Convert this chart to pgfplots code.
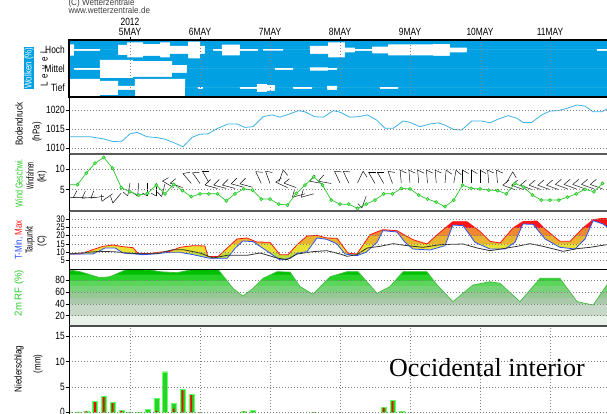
\documentclass[border=0pt]{standalone}
\usepackage{fontspec}
\setmainfont{Liberation Sans}
\newfontfamily\lab[FakeStretch=0.8]{Liberation Sans}
\newfontfamily\cfont[FakeStretch=0.9]{Liberation Sans}
\newfontfamily\serif{Liberation Serif}
\usepackage{graphicx}
\usepackage{pgfplots}
\usepackage{pgfplotstable}
\pgfplotsset{compat=1.18}

\definecolor{wzblue}{RGB}{0,160,226}
\definecolor{pline}{RGB}{60,178,232}
\definecolor{wgreen}{RGB}{40,200,40}
\definecolor{tmaxc}{RGB}{255,20,20}
\definecolor{tminc}{RGB}{40,80,255}
\definecolor{tdc}{RGB}{50,50,50}
\definecolor{tb1}{RGB}{190,220,60}
\definecolor{tb2}{RGB}{232,224,50}
\definecolor{tb3}{RGB}{232,180,50}
\definecolor{tb4}{RGB}{240,136,48}
\definecolor{tb5}{RGB}{255,20,20}
\definecolor{rb1}{RGB}{232,242,232}
\definecolor{rb2}{RGB}{200,216,200}
\definecolor{rb3}{RGB}{170,200,170}
\definecolor{rb4}{RGB}{150,200,150}
\definecolor{rb5}{RGB}{120,210,120}
\definecolor{rb6}{RGB}{90,215,90}
\definecolor{rb7}{RGB}{40,210,40}
\definecolor{rb8}{RGB}{0,190,0}
\definecolor{rhline}{RGB}{60,190,60}
\definecolor{pgreen}{RGB}{40,210,40}

% humidity bands 20/40/50/60/70/80/90 % on an axis from 2.7 to 98.5
% (the middle 25bp..75bp of a shading spans the axis box)
\pgfdeclareverticalshading{rhbands}{100bp}{
  color(0bp)=(rb1); color(34.03bp)=(rb1);
  color(34.03bp)=(rb2); color(44.47bp)=(rb2);
  color(44.47bp)=(rb3); color(49.69bp)=(rb3);
  color(49.69bp)=(rb4); color(54.91bp)=(rb4);
  color(54.91bp)=(rb5); color(60.13bp)=(rb5);
  color(60.13bp)=(rb6); color(65.34bp)=(rb6);
  color(65.34bp)=(rb7); color(70.56bp)=(rb7);
  color(70.56bp)=(rb8); color(100bp)=(rb8)}

\newcommand\lf{\lab\fontsize{10}{11}\selectfont}

% time axis: hours from 5 May 2012 00 UTC
% cloud cover per level (%), each value holds from t to the next t
\pgfplotstableread{
t c
-21 60
-19.2 10
-10.3 0
-4.1 53
-1.0 79
4.5 63
10.3 79
13.7 42
19.9 88
24 42
25.7 0
28.5 10
31.5 56
37.7 10
43.9 0
45.6 8
52.5 0
61.7 42
67.9 79
73.7 26
77.1 10
83 35
88.5 58
103.9 63
109.7 26
115.5 0
160.1 10
166 10
}\cloudH
\pgfplotstableread{
t c
-21 0
-19.2 10
-10.3 95
1.0 84
14.4 42
19.5 0
49.7 10
55.9 0
61.7 18
67.9 10
71 0
166 0
}\cloudM
\pgfplotstableread{
t c
-21 95
-10.3 74
-4.1 21
1.7 95
18.9 0
23.3 10
25 0
37.7 10
43.5 42
46.9 30
49.7 0
55.9 10
62.4 0
67.6 21
71 0
85.7 10
91.9 0
166 0
}\cloudT

\pgfplotstableread{
t v
-20.9 9
-17.1 9
-13.7 11
-9.3 13.6
-5.8 14.4
-2.4 13.4
1.0 12.8
2.7 9.5
6.9 9.2
9.3 10
13.7 10.6
17.1 13
21.6 14
25.7 13.8
26.7 7.5
30.2 7.5
36.7 18
40.1 18.6
43.5 16.2
48.0 16
51.4 8.6
54.2 8.6
57.3 14.6
60.7 19.8
64.1 20.2
67.5 18.6
71.0 18.4
74.7 9.5
77.8 9
82.3 20.6
86.7 23.6
91.5 23
97.0 17.6
101.8 15
106.3 22
110.7 28.4
115.5 28.4
120.0 22.6
123.4 16.6
126.9 15.6
131.3 24.6
134.7 28.4
139.5 28.8
142.3 24
147.4 16.6
150.9 16.6
155.3 24.6
158.8 29.6
162.2 30.4
164.5 30
}\tmax
\pgfplotstableread{
t v
-20.9 9
-12.7 9
-10.3 11
-8.6 12.6
-5.1 12.6
-2.4 9.6
4.5 8.6
7.9 9
13.7 10
17.1 10
21.6 8.6
27.4 6.4
33.3 6.4
36 12.4
38.7 16.8
42.2 16.4
45.6 12.4
51.4 5.4
54.9 6.4
57.3 9.4
60.7 10.4
64.1 18.6
67.5 17.8
71 15
73.7 9
77.8 8
80.9 10
84.7 16
86.7 23
91.5 22.2
94.3 16
97 12
102.9 11.4
108 14
110.7 26.4
114.2 26
118.3 16
123.4 12
128.6 12
132 16
134.7 27
138.2 26.8
142.3 18
147.4 13
152.6 12
156 18
158.8 29
162.2 27
164.5 24
}\tmin
\pgfplotstableread{
t v
-20.6 96.8
-17.1 94
-10.3 83.9
-6.9 85.6
-1 98
5.8 98
10.3 94
16.1 92.3
21.6 98
30.2 98
35.3 66
38.7 53
42.2 66
45.6 82.8
50.4 94
54.9 93.4
58.3 69
62.7 56
68.6 85.6
74.4 94
78.2 94
84.7 57.6
89.1 68.8
93.6 94
101.8 94
105.3 71.6
110.7 43.6
117.6 71.6
123.4 77.2
126.9 74.4
133.7 43.6
140.6 82.8
147.4 82.8
153.3 43.6
158.8 38
163.5 71.6
165 80
}\rhum

% wind barbs: time, base (kt), direction from (deg), feather length
\pgfplotstableread{
t y dir f
-18 3.2 268 8
-15 3.2 268 8
-12 3.2 265 8
-9 3.4 262 8
-6 4.0 235 7
-3 4.2 220 7
0 6.6 190 6
3 6.6 185 6
6 6.6 180 6
9 6.6 180 6
12 6.4 195 6
15 5.5 300 7
18 5.5 290 7
21 6.5 320 7
24 6.5 325 7
27 6.8 330 7
30 5.3 285 8
33 5.3 285 8
36 5.3 285 8
39 5.6 285 8
42 5.6 285 8
45 6.5 335 7
48 6.5 340 7
51 6.8 20 7
54 5.5 295 7
57 5.5 290 7
60 4.0 255 8
63 4.0 255 8
66 6.5 280 8
69 6.5 280 8
72 6.6 335 7
75 6.6 335 7
78 6.6 25 7
81 3.5 200 6
84 6.5 330 7
87 6.5 330 7
90 6.5 340 7
93 6.6 355 7
96 6.6 355 7
99 6.6 355 7
102 6.6 355 7
105 6.6 355 7
108 6.6 5 7
111 6.6 10 7
114 6.6 0 7
117 6.6 0 7
120 6.6 0 7
123 6.6 355 7
126 6.6 355 7
129 6.6 30 7
132 5.0 290 8
135 5.0 290 8
138 5.0 290 8
141 5.0 290 8
144 5.0 290 8
147 5.0 290 8
150 5.2 290 8
153 5.2 290 8
156 5.2 290 8
159 5.2 290 8
162 5.2 290 8
}\barbs

\pgfplotstableread{
t tot conv
-21 0.1 0
-18 0.1 0
-15 0.3 0.2
-12 2.1 2.0
-9 3.2 3.0
-6 2.0 1.8
-3 0.45 0.3
0 0.1 0
3 0.1 0
6 0.6 0
9 2.8 0.3
12 8.0 0
15 1.8 0.7
18 4.5 4.3
21 3.55 3.4
24 0 0.05
39 0.2 0.15
42 0.4 0
63 0 0.05
87 1.0 0.9
90 2.4 2.2
93 0.2 0.1
}\rain

\pgfplotsset{
  panel/.style={
    scale only axis, width=540pt, xmin=-20.914, xmax=164.23,
    anchor=south west, xtick=\empty, ytick pos=left,
    tick align=outside, major tick length=3pt,
    tick style={black, line width=0.6pt},
    yticklabel style={font=\lab\fontsize{10.5}{11}\selectfont, inner xsep=1pt, inner ysep=0pt},
    /pgf/number format/assume math mode=true,
    /pgf/number format/1000 sep={}, scaled y ticks=false,
    ymajorgrids, grid style={gray, line width=0.5pt, dash pattern=on 1pt off 2pt},
    axis on top, axis line style={black, line width=0.8pt}},
  band/.style={
    scale only axis, width=540pt, xmin=-20.914, xmax=164.23,
    anchor=south west, hide axis}}

% close a filled curve far below / above the visible range
\newcommand\down{-- (axis cs:166,-300) -- (axis cs:-22,-300) -- cycle}
\newcommand\up{-- (axis cs:166,500) -- (axis cs:-22,500) -- cycle}

\begin{document}
\begin{tikzpicture}
\useasboundingbox (0,0) rectangle (607pt,414pt);
\clip (0,0) rectangle (607pt,414pt);

% temperature colour bands (each band axis clips to its own range)
\begin{axis}[band, at={(69pt,145pt)}, height=16.667pt, ymin=0, ymax=10]
\addplot[fill=tb1, draw=none] table[x=t, y=v] {\tmax} \down;
\addplot[fill=white, draw=none] table[x=t, y=v] {\tmin} \down;
\end{axis}
\begin{axis}[band, at={(69pt,161.667pt)}, height=8.333pt, ymin=10, ymax=15]
\addplot[fill=tb2, draw=none] table[x=t, y=v] {\tmax} \down;
\addplot[fill=white, draw=none] table[x=t, y=v] {\tmin} \down;
\end{axis}
\begin{axis}[band, at={(69pt,170pt)}, height=8.333pt, ymin=15, ymax=20]
\addplot[fill=tb3, draw=none] table[x=t, y=v] {\tmax} \down;
\addplot[fill=white, draw=none] table[x=t, y=v] {\tmin} \down;
\end{axis}
\begin{axis}[band, at={(69pt,178.333pt)}, height=8.333pt, ymin=20, ymax=25]
\addplot[fill=tb4, draw=none] table[x=t, y=v] {\tmax} \down;
\addplot[fill=white, draw=none] table[x=t, y=v] {\tmin} \down;
\end{axis}
\begin{axis}[band, at={(69pt,186.667pt)}, height=16.333pt, ymin=25, ymax=34.8]
\addplot[fill=tb5, draw=none] table[x=t, y=v] {\tmax} \down;
\addplot[fill=white, draw=none] table[x=t, y=v] {\tmin} \down;
\end{axis}

% temperature lines
\begin{axis}[panel, at={(69pt,145pt)}, height=58pt, ymin=0, ymax=34.8, ytick={5,10,...,30},
  yticklabel style={font=\lab\fontsize{9.5}{10}\selectfont}]
\addplot[tmaxc, line width=0.8pt] table[x=t, y=v] {\tmax};
\addplot[tminc, line width=0.8pt] table[x=t, y=v] {\tmin};
\addplot[tdc, line width=0.8pt] coordinates {
(-20.9,9) (-10.3,10.6) (-5.1,10.3) (-1,9.6) (3.4,9.2) (9.3,9.2) (14.7,11.6) (18.2,11.6)
(24,9.6) (28.5,6.6) (33.3,8.2) (40.1,8.2) (44.6,9.6) (50.4,6.6) (53.8,5.6) (57.3,9)
(62.7,10.4) (67.5,11) (72,9) (74.4,7.6) (77.8,8.6) (81.3,12.6) (85.7,13.6) (90.2,15.2)
(95,14) (100.5,13) (106.3,14.6) (114.2,15) (119,12.6) (123.4,11) (127.9,12.2) (132.7,13.6)
(137.1,15.2) (141.6,13.6) (148.5,10.6) (153.3,12.2) (157.7,13) (163.5,14.6)};
\end{axis}

% relative humidity: banded background, white above the curve
\begin{axis}[panel, at={(69pt,88pt)}, height=57pt, ymin=2.7, ymax=98.5, ytick={20,40,60,80},
  axis background/.style={shade, shading=rhbands}]
\addplot[fill=white, draw=none] table[x=t, y=v] {\rhum} \up;
\addplot[rhline, line width=0.7pt] table[x=t, y=v] {\rhum};
\end{axis}

% precipitation
\begin{axis}[panel, at={(69pt,-2pt)}, height=90pt, ymin=-0.73, ymax=17.02, ytick={0,5,10,15},
  xtick={0,24,...,144}, xticklabels={,,,,,,}, xtick style={draw=none}, xmajorgrids,
  separate axis lines, x axis line style={black!70, line width=1.2pt},
  y axis line style={black, line width=0.8pt}]
\addplot[ybar, bar width=5pt, bar shift=0pt, fill=pgreen, draw=green!60!white] table[x=t, y=tot] {\rain};
\addplot[ybar, bar width=1.8pt, bar shift=0pt, fill=red, draw=none] table[x=t, y=conv] {\rain};
\end{axis}

% pressure
\begin{axis}[panel, at={(69pt,260pt)}, height=57pt, ymin=1008.5, ymax=1023.5, ytick={1010,1015,1020}]
\addplot[pline, line width=0.8pt] coordinates {
(-20.9,1013.05) (-13.7,1013.05) (-8.6,1012.4) (-5.8,1011.75) (-2.7,1011.9) (0,1013.8)
(2.4,1014.2) (5.8,1013.05) (9.3,1012.8) (12,1012.4) (14.7,1011.6) (18.2,1010.4) (21.3,1012.9)
(24,1013.7) (26.7,1013.8) (30.2,1015.3) (33.6,1016.4) (36.7,1016.4) (39.4,1015.5) (42.2,1015.7)
(45.6,1018.3) (48.7,1018.8) (51.4,1018.2) (54.9,1019.1) (57.7,1019.9) (60,1019.6) (63.4,1018.3)
(66.3,1018.2) (69.7,1019.9) (72,1019.5) (75.4,1018.2) (78.3,1018.3) (81.4,1018.8) (84.6,1017.4)
(87.4,1015.3) (90.3,1015.3) (93.7,1017.2) (96,1016.8) (99.4,1015.7) (102.9,1016.4) (105.7,1016.7)
(108,1016.1) (110.8,1015.0) (113.7,1014.8) (117.2,1017.2) (120.6,1017.2) (123.4,1016.7)
(126.3,1017.7) (129.7,1018.6) (132.6,1017.9) (134.8,1016.8) (137.7,1016.8) (141.2,1018.8)
(144,1019.8) (146.8,1019.9) (149.7,1020.5) (153.2,1021.4) (156,1021.1) (158.8,1019.6)
(161.7,1019.6) (163.4,1020.3) (164.5,1020.5)};
\end{axis}

% clouds
\begin{axis}[panel, at={(69pt,317pt)}, height=57pt, ymin=0, ymax=57,
  axis background/.style={fill=wzblue}, ymajorgrids=false,
  ytick={9,28,47}, yticklabels={Tief,Mittel,Hoch}, ytick style={draw=none},
  xtick={0,24,...,144}, xtick pos=right, xticklabel pos=right,
  xticklabels={5MAY,6MAY,7MAY,8MAY,9MAY,10MAY,11MAY},
  xticklabel style={font=\lab\fontsize{10.5}{11}\selectfont, inner sep=1pt},
  xmajorgrids, axis line style={black, line width=1.2pt}]
\addplot[const plot mark left, fill=white, draw=none] table[x=t, y expr=47+0.095*\thisrow{c}] {\cloudH} \down;
\addplot[const plot mark left, fill=wzblue, draw=none] table[x=t, y expr=47-0.095*\thisrow{c}] {\cloudH} \down;
\addplot[const plot mark left, fill=white, draw=none] table[x=t, y expr=28+0.095*\thisrow{c}] {\cloudM} \down;
\addplot[const plot mark left, fill=wzblue, draw=none] table[x=t, y expr=28-0.095*\thisrow{c}] {\cloudM} \down;
\addplot[const plot mark left, fill=white, draw=none] table[x=t, y expr=9+0.095*\thisrow{c}] {\cloudT} \down;
\addplot[const plot mark left, fill=wzblue, draw=none] table[x=t, y expr=9-0.095*\thisrow{c}] {\cloudT} \down;
\end{axis}

% wind
\begin{axis}[panel, at={(69pt,203pt)}, height=57pt, ymin=-0.145, ymax=13.62, ytick={5,10},
  separate axis lines, x axis line style={black!65, line width=1.2pt},
  y axis line style={black, line width=0.8pt}]
\addplot[black, line width=0.45pt,
  quiver={u={13*sin(\thisrow{dir})/2.9167}, v={13*cos(\thisrow{dir})/4.1404}}]
  table[x=t, y=y] {\barbs};
\addplot[black, line width=0.45pt,
  quiver={u={\thisrow{f}*sin(\thisrow{dir}+120)/2.9167}, v={\thisrow{f}*cos(\thisrow{dir}+120)/4.1404}}]
  table[x expr=\thisrow{t}+13*sin(\thisrow{dir})/2.9167, y expr=\thisrow{y}+13*cos(\thisrow{dir})/4.1404] {\barbs};
\addplot[wgreen, line width=0.7pt, mark=*, mark size=1.5pt,
  mark options={fill=green!35, draw=wgreen}] coordinates {
(-21,6.2) (-18,6.2) (-15,9.0) (-12,11.4) (-9,12.8) (-6,10.2) (-3,5.5) (0,4.5) (3,3.7) (6,4.1)
(9,6.1) (12,4.0) (15,6.3) (18,4.8) (21,3.3) (24,4.0) (27,4.0) (30,4.0) (33,2.3) (36,4.0)
(39,5.2) (42,4.9) (45,2.75) (48,2.75) (51,1.5) (54,1.3) (57,4.1) (60,6.1) (63,8.1) (66,6.1)
(69,2.5) (72,1.5) (75,1.5) (78,0.5) (81,1.5) (84,2.5) (87,4.0) (90,4.0) (93,5.3) (96,5.2)
(99,3.7) (102,2.75) (105,2.0) (108,0.9) (111,2.5) (114,6.1) (117,5.3) (120,5.2) (123,4.9)
(126,4.8) (129,4.0) (132,6.5) (135,5.6) (138,3.7) (141,2.5) (144,2.5) (147,2.5) (150,3.2)
(153,4.0) (156,5.1) (159,4.5) (162,6.5)};
\end{axis}

% texts
\node[anchor=base west, font=\cfont\fontsize{9}{10}\selectfont, text=black!75] at (65pt,408.5pt) {(C) Wetterzentrale};
\node[anchor=base west, font=\cfont\fontsize{9}{10}\selectfont, text=black!75] at (65pt,400pt) {www.wetterzentrale.de};
\node[anchor=base, font=\lab\fontsize{10.5}{11}\selectfont] at (130pt,388pt) {2012};
\node[rotate=90, fill=wzblue, text=white, font=\lf, inner sep=0.8pt] at (29pt,346pt) {Wolken (\%)};
\node[rotate=90, font=\lf] at (44pt,345pt) {L\hspace{4pt}e\hspace{4pt}v\hspace{4pt}e\hspace{4pt}l};
\node[rotate=90, font=\lf] at (19pt,290pt) {Bodendruck};
\node[rotate=90, font=\lf] at (37pt,282pt) {(hPa)};
\node[rotate=90, font=\lf, text=wgreen] at (19pt,231pt) {\scalebox{0.9}[1]{Wind Geschwi.}};
\node[rotate=90, font=\lf] at (30pt,238pt) {\scalebox{0.65}[1]{Windfahnen}};
\node[rotate=90, font=\lf] at (42pt,237pt) {(kt)};
\node[rotate=90, font=\lf] at (19pt,174pt) {\textcolor{tminc}{T-Min,} \textcolor{tmaxc}{Max}};
\node[rotate=90, font=\lf] at (30pt,174pt) {\scalebox{0.85}[1]{Taupunkt}};
\node[rotate=90, font=\lf] at (42pt,173pt) {(C)};
\node[rotate=90, font=\lf, text=wgreen] at (19pt,121pt) {\scalebox{1.2}[1]{2m RF (\%)}};
\node[rotate=90, font=\lf] at (19pt,45pt) {Niederschlag};
\node[rotate=90, font=\lf] at (38pt,50pt) {(mm)};
\node[anchor=base west, font=\serif\fontsize{26}{28}\selectfont, inner sep=0pt] at (389pt,37pt) {Occidental interior};
\end{tikzpicture}
\end{document}
